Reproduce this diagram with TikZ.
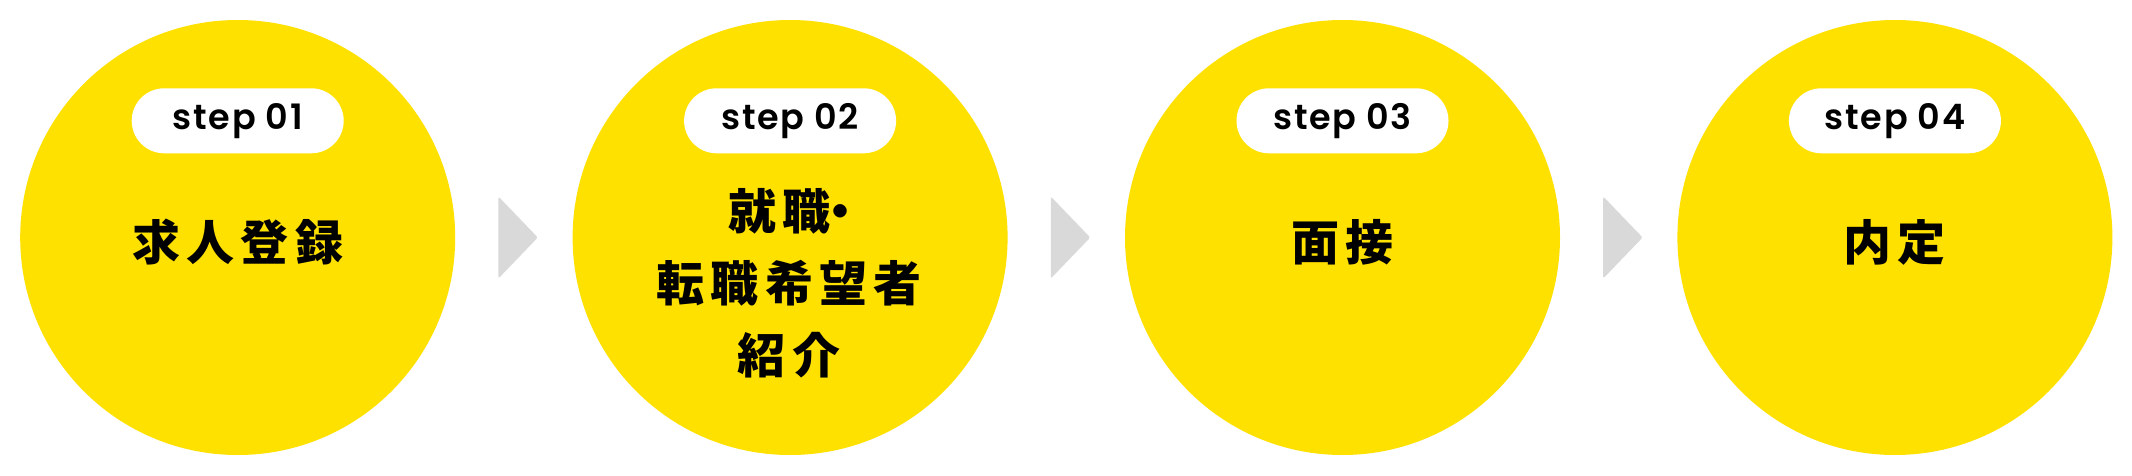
\documentclass[tikz,border=0pt]{standalone}
\usepackage{fontspec}
\usetikzlibrary{calc}
\newfontfamily\jpfont{Noto Sans CJK JP}[LetterSpace=13]
\newfontfamily\stepfont{Poppins SemiBold}[LetterSpace=5]
\definecolor{stepyellow}{HTML}{FFE100}
\definecolor{arrowgray}{HTML}{D9D9D9}
\tikzset{
  stepcircle/.style={circle, fill=stepyellow, inner sep=0pt, minimum size=435pt},
  pill/.style={rectangle, rounded corners=32.5pt, fill=white, inner sep=0pt,
    minimum width=212pt, minimum height=65pt, font=\stepfont\fontsize{35}{40}\selectfont, text=black},
  maintext/.style={align=center, inner sep=0pt, text=black, font=\jpfont\bfseries\fontsize{48}{72}\selectfont},
  arrowtri/.style={fill=arrowgray, rounded corners=2pt}
}
\begin{document}
\begin{tikzpicture}[x=1pt,y=-1pt]
\useasboundingbox[fill=white] (0,0) rectangle (2132,476);
\foreach \i/\lbl in {1/01,2/02,3/03,4/04}{
  \node[stepcircle] (c\i) at ({237.7+(\i-1)*552.4},237.5) {};
  \node[pill] (p\i) at ({237.7+(\i-1)*552.4},120.8) {step \lbl};
}
\node[maintext] (t1) at ($(c1.center)+(0,4.5)$) {求人登録};
\node[maintext] (t2) at ($(c2.center)+(-1,46)$) {就職\makebox[19pt][c]{・}\\転職希望者\\紹介};
\node[maintext] (t3) at ($(c3.center)+(0,4.5)$) {面接};
\node[maintext] (t4) at ($(c4.center)+(0,4.5)$) {内定};
\foreach \i in {1,2,3}{
  \fill[arrowtri] ($(c\i.east)+(43,-41)$) -- ($(c\i.east)+(82.4,0)$) -- ($(c\i.east)+(43,41)$) -- cycle;
}
\end{tikzpicture}
\end{document}
